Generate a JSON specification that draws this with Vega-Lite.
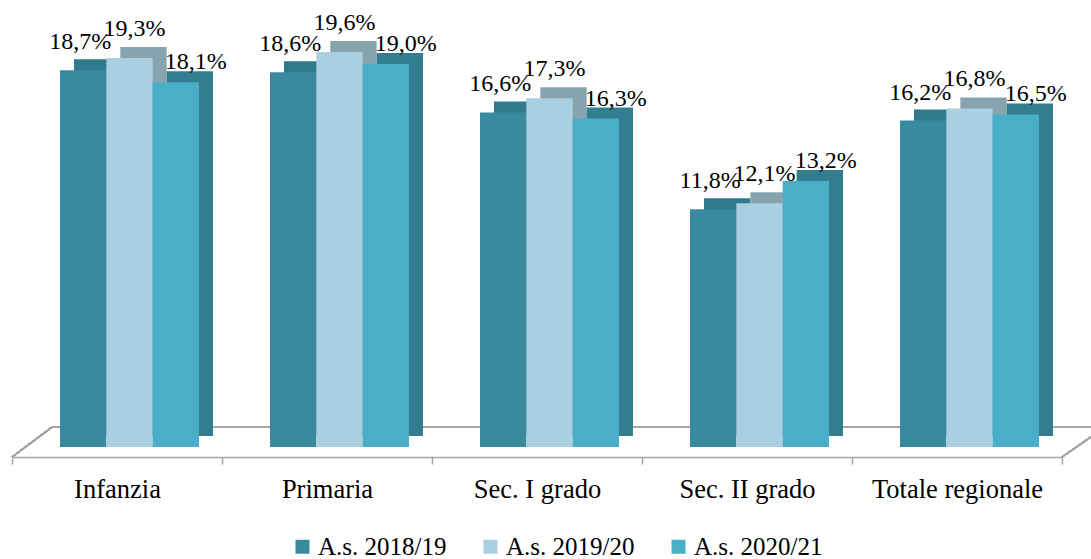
{
  "$schema": "https://vega.github.io/schema/vega-lite/v6.json",
  "width": 1050,
  "height": 447,
  "autosize": {"type": "none"},
  "padding": {"left": 12, "top": 0, "right": 29, "bottom": 112},
  "config": {
    "view": {"stroke": null},
    "locale": {"number": {"decimal": ",", "thousands": ".", "grouping": [3], "currency": ["", " €"]}}
  },
  "data": {"values": [
    {"cat": "Infanzia", "serie": "A.s. 2018/19", "val": 0.187},
    {"cat": "Infanzia", "serie": "A.s. 2019/20", "val": 0.193},
    {"cat": "Infanzia", "serie": "A.s. 2020/21", "val": 0.181},
    {"cat": "Primaria", "serie": "A.s. 2018/19", "val": 0.186},
    {"cat": "Primaria", "serie": "A.s. 2019/20", "val": 0.196},
    {"cat": "Primaria", "serie": "A.s. 2020/21", "val": 0.190},
    {"cat": "Sec. I grado", "serie": "A.s. 2018/19", "val": 0.166},
    {"cat": "Sec. I grado", "serie": "A.s. 2019/20", "val": 0.173},
    {"cat": "Sec. I grado", "serie": "A.s. 2020/21", "val": 0.163},
    {"cat": "Sec. II grado", "serie": "A.s. 2018/19", "val": 0.118},
    {"cat": "Sec. II grado", "serie": "A.s. 2019/20", "val": 0.121},
    {"cat": "Sec. II grado", "serie": "A.s. 2020/21", "val": 0.132},
    {"cat": "Totale regionale", "serie": "A.s. 2018/19", "val": 0.162},
    {"cat": "Totale regionale", "serie": "A.s. 2019/20", "val": 0.168},
    {"cat": "Totale regionale", "serie": "A.s. 2020/21", "val": 0.165}
  ]},
  "encoding": {
    "x": {
      "field": "cat", "type": "nominal", "sort": null,
      "scale": {"domain": ["Infanzia", "Primaria", "Sec. I grado", "Sec. II grado", "Totale regionale"], "paddingInner": 0, "paddingOuter": 0},
      "axis": {
        "title": null, "labelAngle": 0, "offset": 10,
        "domainColor": "#a6a6a6", "domainWidth": 1.5, "tickColor": "#a6a6a6", "tickWidth": 1.5, "tickSize": 7,
        "tickBand": "extent", "labelFont": "Liberation Serif", "labelFontSize": 26.5,
        "labelColor": "#000000", "labelPadding": 12
      }
    }
  },
  "layer": [
    {
      "mark": {"type": "rule", "color": "#a6a6a6", "strokeWidth": 1.5, "xOffset": 40, "x2Offset": 40},
      "encoding": {
        "x": {"datum": "Infanzia", "bandPosition": 0},
        "x2": {"datum": "Totale regionale", "bandPosition": 1},
        "y": {"datum": 0.0099, "type": "quantitative", "scale": {"domain": [0, 0.2218], "nice": false, "zero": true}, "axis": null}
      }
    },
    {
      "mark": {"type": "rule", "color": "#a6a6a6", "strokeWidth": 1.5, "x2Offset": 40},
      "encoding": {
        "x": {"datum": "Infanzia", "bandPosition": 0},
        "x2": {"datum": "Infanzia", "bandPosition": 0},
        "y": {"datum": -0.00496, "type": "quantitative"},
        "y2": {"datum": 0.0099}
      }
    },
    {
      "mark": {"type": "rule", "color": "#a6a6a6", "strokeWidth": 1.5, "x2Offset": 29},
      "encoding": {
        "x": {"datum": "Totale regionale", "bandPosition": 1},
        "x2": {"datum": "Totale regionale", "bandPosition": 1},
        "y": {"datum": -0.00496, "type": "quantitative"},
        "y2": {"datum": 0.005}
      }
    },
    {
      "mark": {"type": "bar", "yOffset": -11},
      "encoding": {
        "xOffset": {"field": "serie", "type": "nominal", "scale": {"paddingInner": 0, "paddingOuter": 0.766, "align": 0.873}},
        "y": {"field": "val", "type": "quantitative"},
        "color": {"field": "serie", "type": "nominal", "scale": {"range": ["#2f7a8c", "#87a4ae", "#327d8f"]}, "legend": null}
      }
    },
    {
      "layer": [
        {
          "mark": {"type": "bar"},
          "encoding": {
            "y": {"field": "val", "type": "quantitative"},
            "color": {
              "field": "serie", "type": "nominal",
              "scale": {"range": ["#3a8a9f", "#a9cfe0", "#4baec8"]},
              "legend": {
                "title": null, "orient": "none", "direction": "horizontal", "legendX": 278, "legendY": 534,
                "symbolType": "square", "symbolSize": 196, "symbolStrokeWidth": 0,
                "labelFont": "Liberation Serif", "labelFontSize": 25, "labelColor": "#000000",
                "labelOffset": 3, "columnPadding": 31
              }
            }
          }
        },
        {
          "transform": [{"filter": "datum.serie == 'A.s. 2018/19'"}],
          "mark": {"type": "text", "font": "Liberation Serif", "fontSize": 24, "color": "#000000", "baseline": "middle", "dx": -3, "dy": -28},
          "encoding": {
            "y": {"field": "val", "type": "quantitative"},
            "text": {"field": "val", "type": "quantitative", "format": ".1%"}
          }
        },
        {
          "transform": [{"filter": "datum.serie == 'A.s. 2019/20'"}],
          "mark": {"type": "text", "font": "Liberation Serif", "fontSize": 24, "color": "#000000", "baseline": "middle", "dx": 5, "dy": -29},
          "encoding": {
            "y": {"field": "val", "type": "quantitative"},
            "text": {"field": "val", "type": "quantitative", "format": ".1%"}
          }
        },
        {
          "transform": [{"filter": "datum.serie == 'A.s. 2020/21'"}],
          "mark": {"type": "text", "font": "Liberation Serif", "fontSize": 24, "color": "#000000", "baseline": "middle", "dx": 20, "dy": -20},
          "encoding": {
            "y": {"field": "val", "type": "quantitative"},
            "text": {"field": "val", "type": "quantitative", "format": ".1%"}
          }
        }
      ],
      "encoding": {
        "xOffset": {"field": "serie", "type": "nominal", "scale": {"domain": ["A.s. 2018/19", "A.s. 2019/20", "A.s. 2020/21"], "paddingInner": 0, "paddingOuter": 0.766, "align": 0.676}}
      }
    }
  ],
  "resolve": {"scale": {"color": "independent", "xOffset": "independent"}}
}
